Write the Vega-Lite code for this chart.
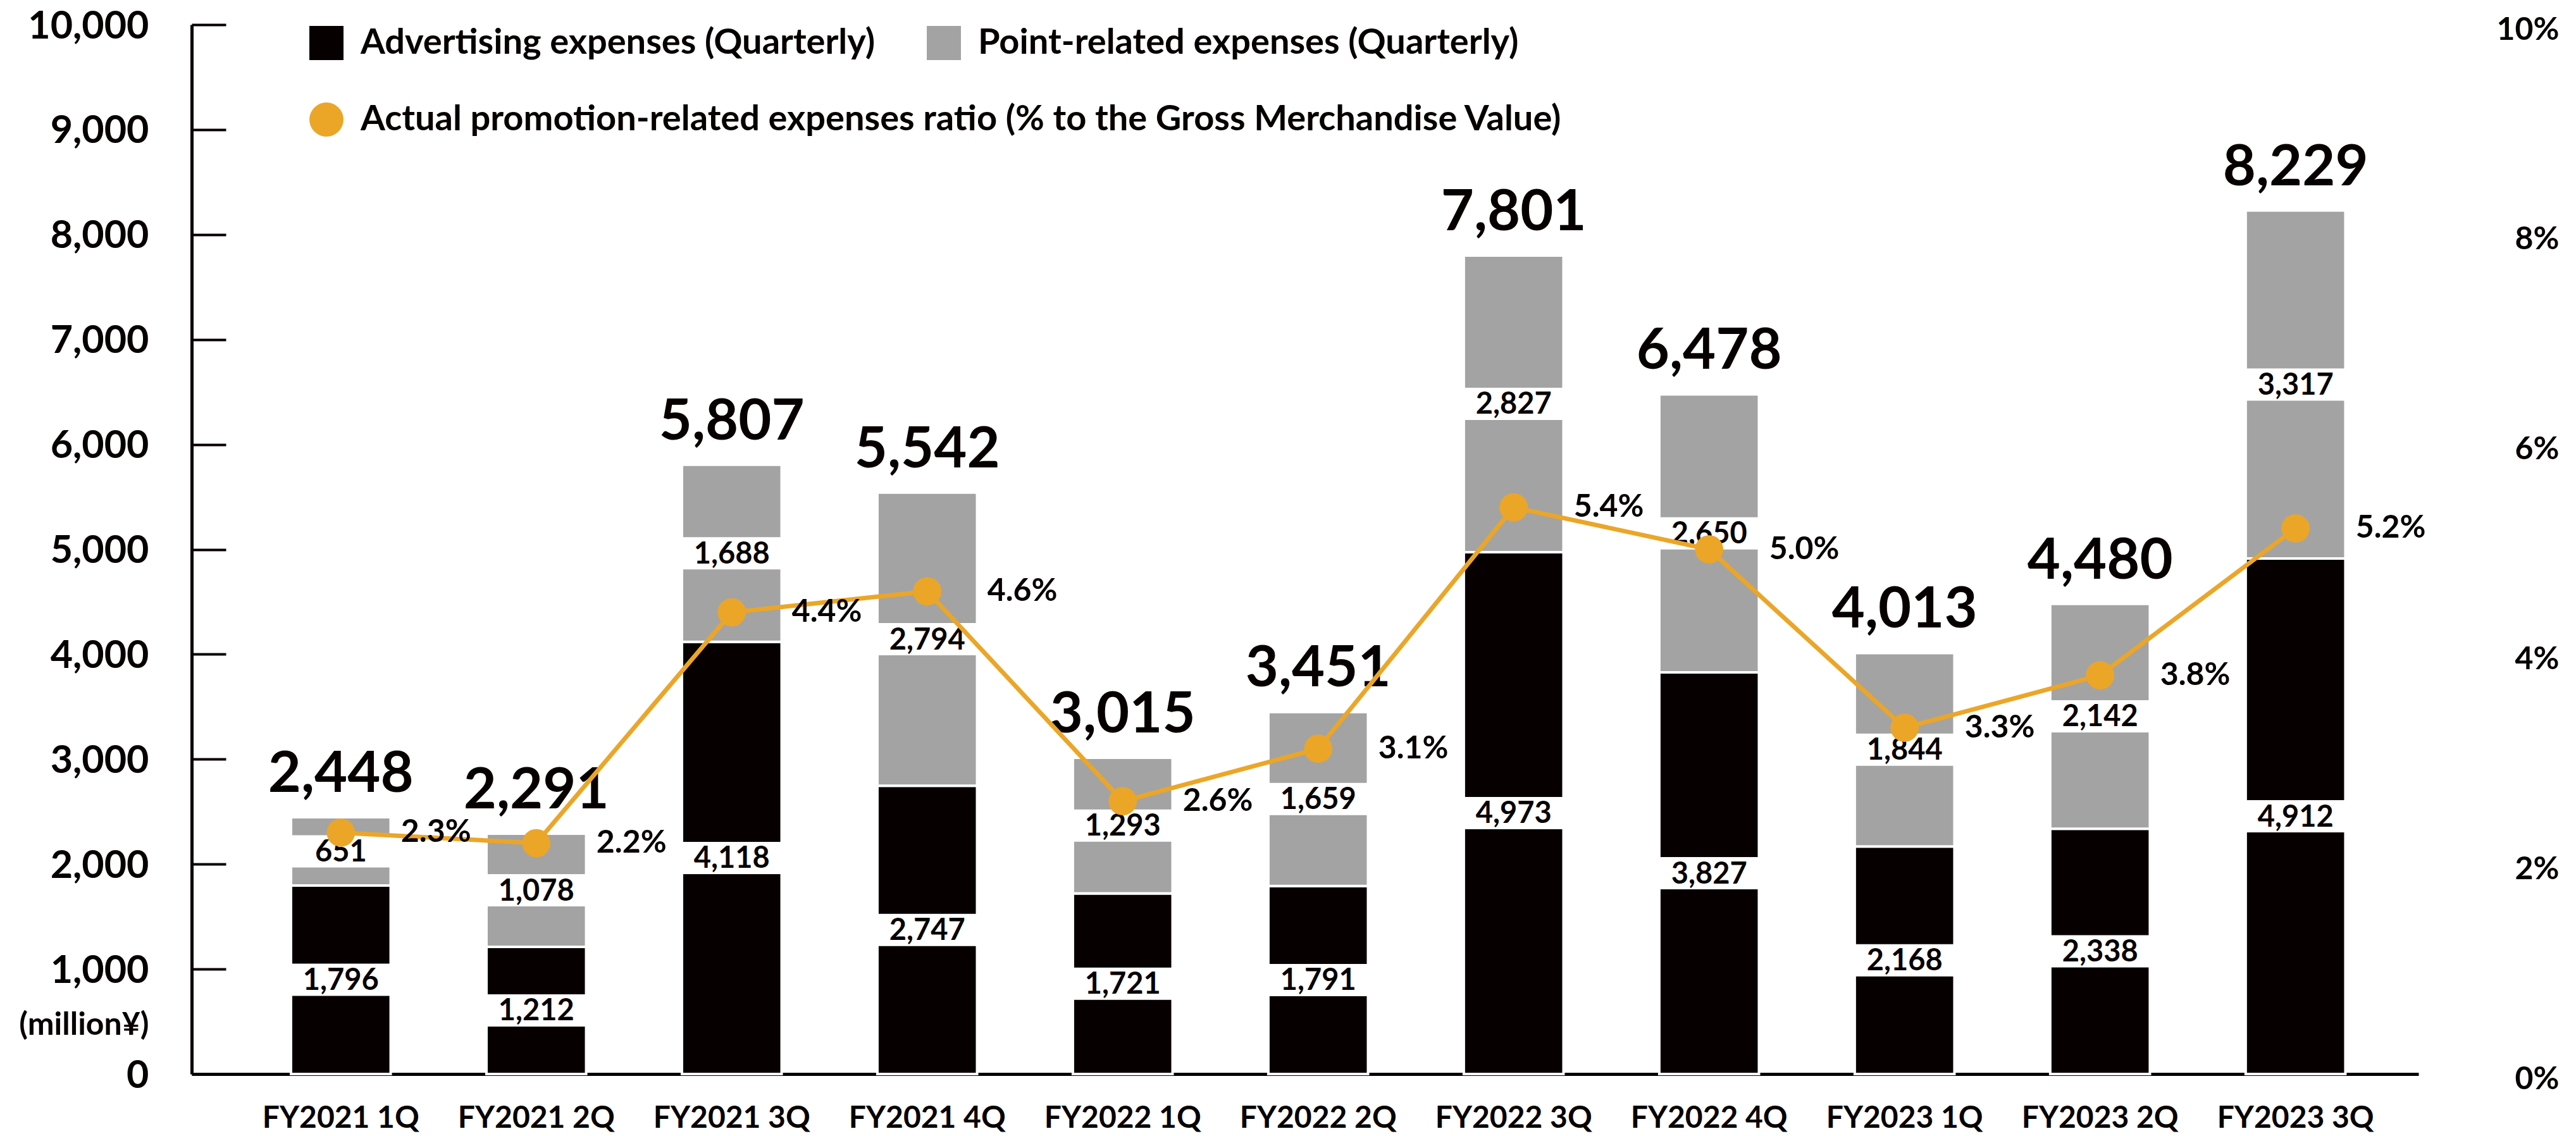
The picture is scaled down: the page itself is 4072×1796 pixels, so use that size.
{
  "$schema": "https://vega.github.io/schema/vega-lite/v6.json",
  "width": 3520,
  "height": 1659,
  "autosize": {"type": "none"},
  "padding": {"left": 303, "top": 39, "right": 249, "bottom": 98},
  "background": "white",
  "config": {
    "view": {"stroke": null},
    "font": "Lato",
    "axis": {"labelFont": "Lato", "labelFontWeight": "bold", "labelColor": "#070000", "grid": false, "zindex": 1, "labelLimit": 600},
    "text": {"font": "Lato", "fontWeight": "bold", "color": "#070000"}
  },
  "data": {
    "values": [
      {"quarter": "FY2021 1Q", "advertising": 1796, "point": 651, "total": 2448, "ratio": 2.3},
      {"quarter": "FY2021 2Q", "advertising": 1212, "point": 1078, "total": 2291, "ratio": 2.2},
      {"quarter": "FY2021 3Q", "advertising": 4118, "point": 1688, "total": 5807, "ratio": 4.4},
      {"quarter": "FY2021 4Q", "advertising": 2747, "point": 2794, "total": 5542, "ratio": 4.6},
      {"quarter": "FY2022 1Q", "advertising": 1721, "point": 1293, "total": 3015, "ratio": 2.6},
      {"quarter": "FY2022 2Q", "advertising": 1791, "point": 1659, "total": 3451, "ratio": 3.1},
      {"quarter": "FY2022 3Q", "advertising": 4973, "point": 2827, "total": 7801, "ratio": 5.4},
      {"quarter": "FY2022 4Q", "advertising": 3827, "point": 2650, "total": 6478, "ratio": 5.0},
      {"quarter": "FY2023 1Q", "advertising": 2168, "point": 1844, "total": 4013, "ratio": 3.3},
      {"quarter": "FY2023 2Q", "advertising": 2338, "point": 2142, "total": 4480, "ratio": 3.8},
      {"quarter": "FY2023 3Q", "advertising": 4912, "point": 3317, "total": 8229, "ratio": 5.2}
    ]
  },
  "encoding": {
    "x": {
      "field": "quarter",
      "type": "nominal",
      "sort": null,
      "scale": {"paddingInner": 0.49, "paddingOuter": 0.441, "align": 0.576},
      "axis": {
        "title": null,
        "labelAngle": 0,
        "labelFontSize": 48,
        "labelBaseline": "middle",
        "labelPadding": 70,
        "labelLimit": 600,
        "ticks": false,
        "tickSize": 0,
        "domain": true,
        "domainColor": "#070000",
        "domainWidth": 5
      }
    }
  },
  "layer": [
    {
      "transform": [
        {"fold": ["advertising", "point"], "as": ["key", "value"]},
        {"stack": "value", "groupby": ["quarter"], "sort": [{"field": "key", "order": "ascending"}], "as": ["v0", "v1"]}
      ],
      "mark": {"type": "bar", "stroke": "white", "strokeWidth": 4},
      "encoding": {
        "y": {
          "field": "v1",
          "type": "quantitative",
          "scale": {"domain": [0, 10000], "nice": false},
          "axis": {
            "orient": "left",
            "values": [0, 1000, 2000, 3000, 4000, 5000, 6000, 7000, 8000, 9000, 10000],
            "format": ",.0f",
            "labelFontSize": 61,
            "labelLimit": 600,
            "labelPadding": 122,
            "labelBaseline": "middle",
            "labelOffset": 3,
            "ticks": true,
            "tickSize": -54,
            "tickWidth": 4,
            "tickColor": "#070000",
            "domain": true,
            "domainColor": "#070000",
            "domainWidth": 5,
            "title": "(million¥)",
            "titleAngle": 0,
            "titleX": -68,
            "titleY": 1581,
            "titleAlign": "right",
            "titleBaseline": "middle",
            "titleFont": "Lato",
            "titleFontSize": 50,
            "titleFontWeight": "bold",
            "titleColor": "#070000",
            "titleLimit": 600
          }
        },
        "y2": {"field": "v0"},
        "color": {
          "field": "key",
          "type": "nominal",
          "scale": {"domain": ["advertising", "point"], "range": ["#070000", "#a3a3a3"]},
          "legend": {
            "orient": "none",
            "legendX": 185,
            "legendY": 1,
            "direction": "horizontal",
            "title": null,
            "symbolType": "square",
            "symbolSize": 2916,
            "symbolStrokeWidth": 0,
            "labelFont": "Lato",
            "labelFontSize": 56,
            "labelFontWeight": "bold",
            "labelColor": "#070000",
            "labelOffset": 26,
            "labelLimit": 3000,
            "columnPadding": 80,
            "padding": 0,
            "labelExpr": "datum.value == 'advertising' ? 'Advertising expenses (Quarterly)' : 'Point-related expenses (Quarterly)'"
          }
        }
      }
    },
    {
      "transform": [
        {"fold": ["advertising", "point"], "as": ["key", "value"]},
        {"stack": "value", "groupby": ["quarter"], "sort": [{"field": "key", "order": "ascending"}], "as": ["v0", "v1"]},
        {"calculate": "(datum.v0 + datum.v1) / 2", "as": "mid"}
      ],
      "mark": {"type": "tick", "color": "white", "thickness": 51, "size": 160, "opacity": 1},
      "encoding": {"y": {"field": "mid", "type": "quantitative", "scale": {"domain": [0, 10000], "nice": false}, "axis": null}}
    },
    {
      "transform": [
        {"fold": ["advertising", "point"], "as": ["key", "value"]},
        {"stack": "value", "groupby": ["quarter"], "sort": [{"field": "key", "order": "ascending"}], "as": ["v0", "v1"]},
        {"calculate": "(datum.v0 + datum.v1) / 2", "as": "mid"}
      ],
      "mark": {"type": "text", "fontSize": 47, "baseline": "middle", "dy": 2},
      "encoding": {
        "y": {"field": "mid", "type": "quantitative", "scale": {"domain": [0, 10000], "nice": false}, "axis": null},
        "text": {"field": "value", "type": "quantitative", "format": ","}
      }
    },
    {
      "mark": {"type": "text", "fontSize": 90, "baseline": "alphabetic", "dy": -40},
      "encoding": {
        "y": {"field": "total", "type": "quantitative", "scale": {"domain": [0, 10000], "nice": false}, "axis": null},
        "text": {"field": "total", "type": "quantitative", "format": ","}
      }
    },
    {
      "mark": {"type": "line", "color": "#eba628", "strokeWidth": 7},
      "encoding": {
        "y": {
          "field": "ratio",
          "type": "quantitative",
          "scale": {"domain": [0, 10], "nice": false},
          "axis": {
            "orient": "right",
            "values": [0, 2, 4, 6, 8, 10],
            "labelExpr": "datum.value + '%'",
            "labelFontSize": 50,
            "labelAlign": "right",
            "labelBaseline": "middle",
            "labelOffset": 8,
            "labelPadding": 222,
            "ticks": false,
            "tickSize": 0,
            "domain": false,
            "title": null
          }
        }
      }
    },
    {
      "mark": {"type": "circle", "size": 2000, "opacity": 1},
      "encoding": {
        "y": {"field": "ratio", "type": "quantitative", "scale": {"domain": [0, 10], "nice": false}, "axis": null},
        "fill": {
          "datum": "Actual promotion-related expenses ratio (% to the Gross Merchandise Value)",
          "type": "nominal",
          "scale": {"range": ["#eba628"]},
          "legend": {
            "orient": "none",
            "legendX": 185,
            "legendY": 122,
            "title": null,
            "symbolType": "circle",
            "symbolSize": 2916,
            "symbolStrokeWidth": 0,
            "labelFont": "Lato",
            "labelFontSize": 56,
            "labelFontWeight": "bold",
            "labelColor": "#070000",
            "labelOffset": 26,
            "labelLimit": 3000,
            "padding": 0
          }
        }
      }
    },
    {
      "transform": [{"calculate": "format(datum.ratio, '.1f') + '%'", "as": "pct"}],
      "mark": {"type": "text", "fontSize": 50, "align": "left", "baseline": "middle", "dx": 95},
      "encoding": {
        "y": {"field": "ratio", "type": "quantitative", "scale": {"domain": [0, 10], "nice": false}, "axis": null},
        "text": {"field": "pct", "type": "nominal"}
      }
    }
  ],
  "resolve": {"scale": {"y": "independent"}}
}
